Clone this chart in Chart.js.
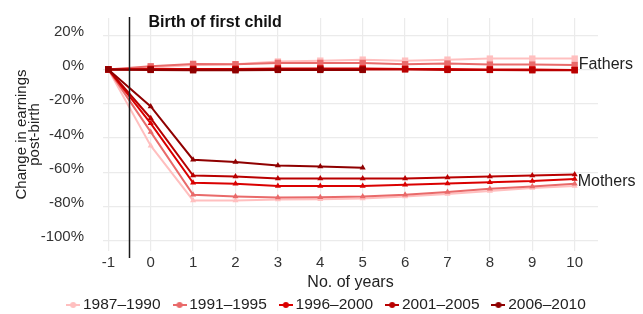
<!DOCTYPE html>
<html>
<head>
<meta charset="utf-8">
<script src="https://cdn.jsdelivr.net/npm/chart.js@4"></script>
<style>
html, body { margin: 0; padding: 0; background: #fff; }
canvas { display: block; }
</style>
</head>
<body>
<canvas id="chart" width="643" height="314"></canvas>
<script>
const FONT = '"Liberation Sans", Arial, sans-serif';

// x axis: years relative to birth of first child
const years = [-1, 0, 1, 2, 3, 4, 5, 6, 7, 8, 9, 10];
const yTicks = [-100, -80, -60, -40, -20, 0, 20];
const periods = ['1987–1990', '1991–1995', '1996–2000', '2001–2005', '2006–2010'];
const colors = ['#ffbfbf', '#e96a6a', '#da0000', '#b90000', '#8f0000'];

// fathers, change in earnings (%)
const fathers1987 = [0, 1, 2.5, 3, 4.6, 5.1, 5.7, 5.1, 5.7, 6.3, 6.3, 6.3];
const fathers1991 = [0, 1.8, 3.2, 3, 3.8, 3.8, 3.8, 3, 3.4, 2.8, 2.8, 2.6];
const fathers1996 = [0, 0.3, 0.3, 0.3, 0.5, 0.5, 0.5, 0.3, 0.3, 0, 0, -0.3];
const fathers2001 = [0, 0, 0, 0, 0.3, 0.3, 0, 0, -0.3, -0.3, -0.5, -0.5];
const fathers2006 = [0, -0.3, -0.5, -0.5, -0.3, -0.3, -0.3];

// mothers, change in earnings (%)
const mothers1987 = [0, -44.5, -76.5, -76.5, -76, -75.8, -75.4, -74.2, -72.8, -71, -69.3, -68];
const mothers1991 = [0, -36.5, -73.2, -74.2, -74.8, -74.6, -74.2, -73.2, -71.6, -69.7, -68.3, -66.8];
const mothers1996 = [0, -31.5, -66.2, -66.8, -68, -68, -68, -67.4, -66.6, -65.8, -65.2, -64];
const mothers2001 = [0, -28.5, -62, -62.5, -63.7, -63.7, -63.7, -63.7, -63.1, -62.5, -61.9, -61.3];
const mothers2006 = [0, -21.6, -52.7, -54.1, -56.1, -56.7, -57.4];

const fathers = [fathers1987, fathers1991, fathers1996, fathers2001, fathers2006];
const mothers = [mothers1987, mothers1991, mothers1996, mothers2001, mothers2006];

Chart.defaults.font.family = FONT;

function series(label, values, color, style, order) {
  return {
    label: label,
    order: order,
    data: values.map((v, i) => ({ x: years[i], y: v })),
    borderColor: color,
    backgroundColor: color,
    borderWidth: 2,
    pointStyle: style,
    pointRadius: style === 'rect' ? 4.5 : 3.5,
    pointBorderWidth: 0,
    tension: 0,
    fill: false
  };
}

const datasets = [];
periods.forEach((p, i) => datasets.push(series(p, fathers[i], colors[i], 'rect', 5 - i)));
periods.forEach((p, i) => datasets.push(series(p, mothers[i], colors[i], 'triangle', 5 - i)));

// little line + dot for the legend
function legendMark(color) {
  const c = document.createElement('canvas');
  c.width = 14; c.height = 8;
  const g = c.getContext('2d');
  g.strokeStyle = color; g.lineWidth = 2;
  g.beginPath(); g.moveTo(0, 4); g.lineTo(14, 4); g.stroke();
  g.fillStyle = color;
  g.beginPath(); g.arc(7, 4, 3, 0, Math.PI * 2); g.fill();
  return c;
}
const marks = colors.map(legendMark);

const annotations = {
  id: 'annotations',
  afterDatasetsDraw(chart) {
    const { ctx, chartArea, scales: { x, y } } = chart;
    const bx = x.getPixelForValue(-0.5);
    ctx.save();
    ctx.strokeStyle = '#1a1a1a';
    ctx.lineWidth = 1.5;
    ctx.beginPath();
    ctx.moveTo(bx, chartArea.top - 1);
    ctx.lineTo(bx, chartArea.bottom + 7);
    ctx.stroke();
    ctx.fillStyle = '#111';
    ctx.textBaseline = 'alphabetic';
    ctx.font = 'bold 16px ' + FONT;
    ctx.fillText('Birth of first child', bx + 19, 27);
    ctx.fillStyle = '#222';
    ctx.font = '16px ' + FONT;
    ctx.fillText('Fathers', x.getPixelForValue(10) + 4, y.getPixelForValue(0));
    ctx.fillText('Mothers', x.getPixelForValue(10) + 3, y.getPixelForValue(-68));
    ctx.restore();
  }
};

const noPad = s => { s.paddingTop = 0; s.paddingBottom = 0; s.paddingLeft = 0; s.paddingRight = 0; };

new Chart(document.getElementById('chart'), {
  type: 'line',
  data: { datasets: datasets },
  options: {
    responsive: false,
    animation: false,
    layout: { padding: { left: 14, right: 0, top: 18, bottom: -8.75 } },
    plugins: {
      tooltip: { enabled: false },
      legend: {
        position: 'bottom',
        labels: {
          usePointStyle: true,
          boxWidth: 4,
          padding: 17,
          color: '#222',
          font: { size: 15.5 },
          generateLabels: () => periods.map((p, i) => ({
            text: p,
            pointStyle: marks[i],
            fillStyle: colors[i],
            strokeStyle: colors[i],
            lineWidth: 0,
            hidden: false,
            datasetIndex: i,
            fontColor: '#222'
          }))
        }
      }
    },
    scales: {
      x: {
        type: 'linear',
        min: -1.125,
        max: 10.55,
        afterBuildTicks: s => { s.ticks = years.map(v => ({ value: v })); },
        afterFit: s => { s.height = 29.25; noPad(s); },
        grid: { color: '#ebebeb', lineWidth: 1.2, drawTicks: false },
        border: { display: false },
        ticks: { color: '#333', font: { size: 15 }, padding: 3 },
        title: {
          display: true,
          text: 'No. of years',
          color: '#222',
          font: { size: 16, lineHeight: 1 },
          padding: { top: 0, bottom: -10.75 }
        }
      },
      y: {
        min: -106,
        max: 30,
        afterBuildTicks: s => { s.ticks = yTicks.map(v => ({ value: v })); },
        afterFit: s => { s.width = 89; noPad(s); },
        grid: { color: '#ebebeb', lineWidth: 1.2, drawTicks: false },
        border: { display: false },
        ticks: {
          color: '#333',
          font: { size: 15 },
          padding: 19,
          labelOffset: -3.5,
          callback: v => v + '%'
        },
        title: {
          display: true,
          text: ['Change in earnings', 'post-birth'],
          color: '#222',
          font: { size: 15, lineHeight: 0.87 },
          padding: { top: 1.5, bottom: 0 }
        }
      },
      // empty strip on the right for the Fathers / Mothers labels
      yRight: {
        position: 'right',
        grid: { display: false },
        border: { display: false },
        ticks: { display: false },
        afterFit: s => { s.width = 45; noPad(s); }
      }
    }
  },
  plugins: [annotations]
});
</script>
</body>
</html>
